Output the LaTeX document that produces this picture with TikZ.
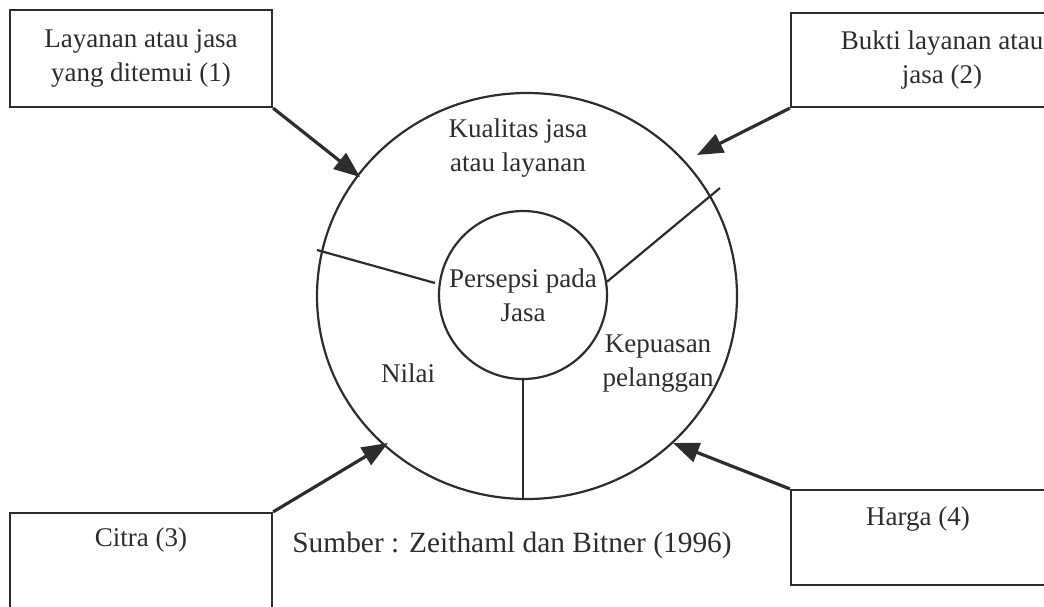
\documentclass[tikz,border=0pt]{standalone}
\usepackage{fontspec}
\setmainfont{Liberation Serif}
\usetikzlibrary{arrows.meta,positioning,shapes.geometric,calc}

\begin{document}
\begin{tikzpicture}[
        x=0.5pt, y=-0.5pt, % 1 unit = 1 pixel of the sketch
        >={Triangle[length=13pt,width=10pt]},
        font=\fontsize{13.5}{17}\selectfont
    ]

        % --- COLOURS AND STYLES ---
        \definecolor{garis}{RGB}{45,45,45}
        \tikzset{
            kotak/.style={draw=garis, line width=1.1pt, rectangle, inner sep=0pt,
                align=center, text=garis},
            panah/.style={->, draw=garis, line width=1.6pt},
            sekat/.style={draw=garis, line width=1.1pt},
            teks/.style={text=garis, align=center, inner sep=0pt}
        }

        % --- FRAME OF THE PICTURE ---
        \clip (0,0) rectangle (1044,606);

        % --- THE FOUR BOXES ---
        \node[kotak, minimum width=131pt, minimum height=48.5pt] (layanan)
            at (141,58.5) {Layanan atau jasa\\yang ditemui (1)};
        \node[kotak, minimum width=151pt, minimum height=47pt] (bukti)
            at (942,60) {Bukti layanan atau\\jasa (2)};
        \node[kotak, minimum width=131pt, minimum height=63.5pt] (citra)
            at (141,576.5) {};
        \node[kotak, minimum width=131pt, minimum height=47.5pt] (harga)
            at (922,537.5) {};
        \node[teks] (citralbl) at (141,540) {Citra (3)};
        \node[teks] (hargalbl) at (918,519) {Harga (4)};

        % --- CIRCLES ---
        \node[ellipse, draw=garis, line width=1.1pt, minimum width=210pt,
            minimum height=203pt, inner sep=0pt] (luar) at (527,296) {};
        \node[circle, draw=garis, line width=1.1pt, minimum size=84pt, teks]
            (persepsi) at (523,295) {Persepsi pada\\Jasa};

        % --- DIVIDING LINES ---
        \coordinate (kiri) at (317,250);
        \coordinate (kiriujung) at (435,283);
        \coordinate (kanan) at (720,188);
        \draw[sekat] (kiri) -- (kiriujung);
        \draw[sekat] (kanan) -- (persepsi.9);
        \draw[sekat] (persepsi.south) -- (persepsi.south |- luar.south);

        % --- LABELS OF THE RING ---
        \node[teks] (kualitas) at (518,148) {Kualitas jasa\\atau layanan};
        \node[teks] (nilai) at (408,373) {Nilai};
        \node[teks] (kepuasan) at (658,364) {Kepuasan\\pelanggan};

        % --- ARROWS INTO THE RING ---
        \coordinate (u1) at (360,177);
        \coordinate (u2) at (697,155);
        \coordinate (u3) at (388,443);
        \coordinate (u4) at (673,443);
        \draw[panah] (layanan.south east) -- (u1);
        \draw[panah] (bukti.south west) -- (u2);
        \draw[panah] (citra.north east) -- (u3);
        \draw[panah] (harga.north west) -- (u4);

        % --- SOURCE ---
        \node[teks, font=\fontsize{14.7}{18}\selectfont] (sumber) at (512,545)
            {Sumber : Zeithaml dan Bitner (1996)};

    \end{tikzpicture}
\end{document}
